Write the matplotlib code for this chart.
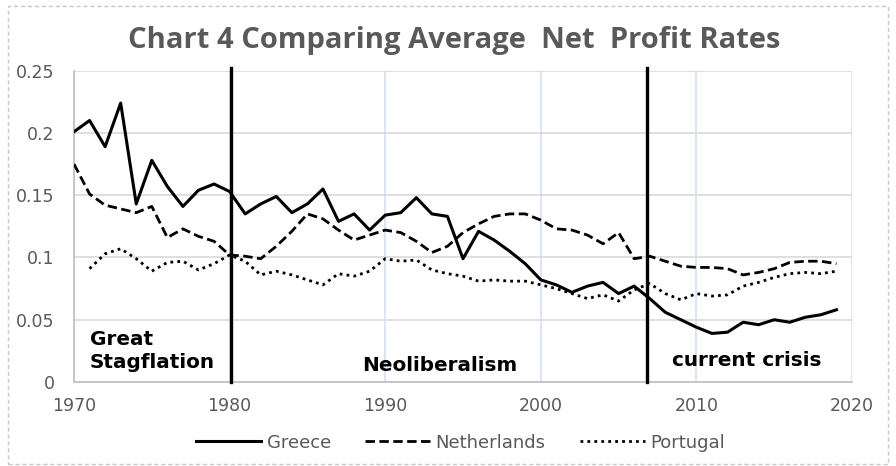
import matplotlib.pyplot as plt
from matplotlib.patches import Rectangle

plt.rcParams['font.family'] = ['DejaVu Sans']

years = list(range(1970, 2020))

greece = [0.201, 0.210, 0.189, 0.224, 0.143, 0.178, 0.157, 0.141, 0.154, 0.159,
          0.153, 0.135, 0.143, 0.149, 0.136, 0.143, 0.155, 0.129, 0.135, 0.122,
          0.134, 0.136, 0.148, 0.135, 0.133, 0.099, 0.121, 0.114, 0.105, 0.095,
          0.082, 0.078, 0.072, 0.077, 0.080, 0.071, 0.077, 0.067, 0.056, 0.050,
          0.044, 0.039, 0.040, 0.048, 0.046, 0.050, 0.048, 0.052, 0.054, 0.058]

netherlands = [0.175, 0.151, 0.142, 0.139, 0.136, 0.141, 0.116, 0.123, 0.117, 0.113,
               0.102, 0.101, 0.099, 0.109, 0.121, 0.135, 0.131, 0.122, 0.114, 0.118,
               0.122, 0.120, 0.113, 0.104, 0.109, 0.120, 0.127, 0.133, 0.135, 0.135,
               0.130, 0.123, 0.122, 0.118, 0.111, 0.120, 0.099, 0.101, 0.097, 0.093,
               0.092, 0.092, 0.091, 0.086, 0.088, 0.091, 0.096, 0.097, 0.097, 0.095]

portugal_years = list(range(1971, 2020))
portugal = [0.091, 0.103, 0.107, 0.099, 0.089, 0.096, 0.097, 0.090, 0.095,
            0.102, 0.097, 0.086, 0.089, 0.086, 0.082, 0.078, 0.087, 0.085, 0.089,
            0.099, 0.097, 0.098, 0.090, 0.087, 0.085, 0.081, 0.082, 0.081, 0.081,
            0.078, 0.075, 0.071, 0.067, 0.070, 0.065, 0.074, 0.079, 0.071, 0.066,
            0.071, 0.069, 0.070, 0.077, 0.080, 0.084, 0.087, 0.088, 0.087, 0.089]

period_breaks = [1980.1, 2006.8]
period_labels = ['Great\nStagflation', 'Neoliberalism', 'current crisis']
period_label_x = [1971.0, 1988.5, 2008.4]
period_label_y = [0.008, 0.006, 0.010]

x_ticks = [1970, 1980, 1990, 2000, 2010, 2020]
y_ticks = [0, 0.05, 0.1, 0.15, 0.2, 0.25]
y_tick_labels = ['0', '0.05', '0.1', '0.15', '0.2', '0.25']

grey_text = '#595959'

fig = plt.figure(figsize=(8.96, 4.66), dpi=100)
ax = fig.add_axes([74 / 896, 84 / 466, 778 / 896, 311.3 / 466])

ax.plot(years, greece, color='black', lw=2.2, solid_joinstyle='round', label='Greece', zorder=3)
ax.plot(years, netherlands, color='black', lw=2.0, dashes=(3.4, 1.6), label='Netherlands', zorder=3)
ax.plot(portugal_years, portugal, color='black', lw=2.0, dashes=(1, 1.5), label='Portugal', zorder=3)

for b in period_breaks:
    ax.plot([b, b], [0, 0.252], color='black', lw=2.4, clip_on=False, zorder=4)

for t, xx, yy in zip(period_labels, period_label_x, period_label_y):
    ax.text(xx, yy, t, fontsize=14.4, fontweight='bold', color='black',
            ha='left', va='bottom', linespacing=1.3)

ax.set_xlim(1970, 2020)
ax.set_ylim(0, 0.25)
ax.set_xticks(x_ticks)
ax.set_yticks(y_ticks)
ax.set_yticklabels(y_tick_labels)
ax.tick_params(length=0, labelsize=12.5, labelcolor=grey_text)
ax.tick_params(axis='x', pad=11)
ax.tick_params(axis='y', pad=14)

ax.yaxis.grid(True, color='#d9d9d9', lw=1.2)
ax.xaxis.grid(True, color='#d4e0f4', lw=1.2)
ax.set_axisbelow(True)
for s in ['top', 'right']:
    ax.spines[s].set_visible(False)
for s in ['left', 'bottom']:
    ax.spines[s].set_color('#bfbfbf')
    ax.spines[s].set_linewidth(1.2)

fig.text(0.507, 0.914, 'Chart 4 Comparing Average  Net  Profit Rates',
         ha='center', va='center', fontsize=21, fontweight='bold', color=grey_text,
         family='Open Sans')

leg = ax.legend(loc='center', bbox_to_anchor=(0.497, -0.195), ncol=3, frameon=False,
                handlelength=3.6, handletextpad=0.3, columnspacing=1.9,
                fontsize=13)
for t in leg.get_texts():
    t.set_color(grey_text)

fig.patches.append(Rectangle((8 / 896, 2 / 466), 880 / 896, 458 / 466, transform=fig.transFigure,
                             fill=False, edgecolor='#c8c8c8', lw=1.0, ls=(0, (3, 2))))

fig.savefig('out.png', dpi=100)
